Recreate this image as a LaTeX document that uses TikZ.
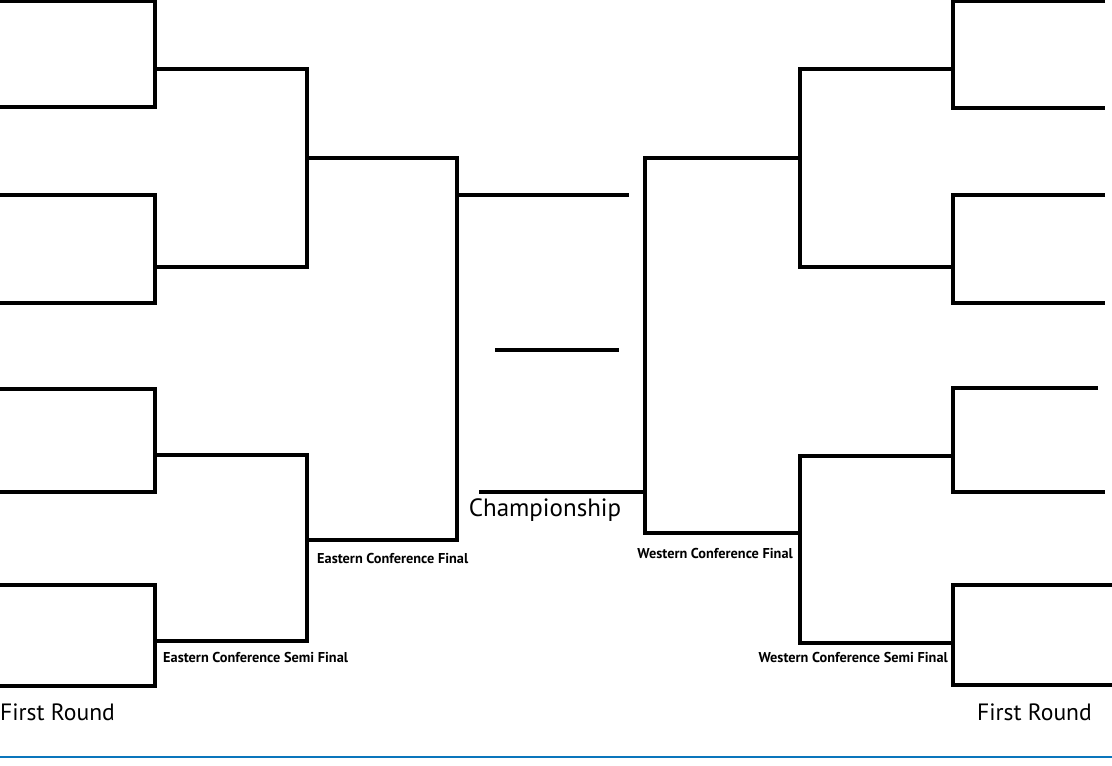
\documentclass[tikz,border=0pt]{standalone}
\usepackage{fontspec}
\setmainfont{PT Sans}
\usepackage{xcolor}
\definecolor{rulerblue}{RGB}{10,118,188}
\tikzset{
  bracket/.style={draw, line width=3.4pt, line join=miter},
  round label/.style={inner sep=0pt, font=\fontsize{23.6}{25}\selectfont},
  stage label/.style={inner sep=0pt, font=\bfseries\fontsize{14.3}{15}\selectfont},
}

\begin{document}
\begin{tikzpicture}[x=1pt, y=-1pt]
  \useasboundingbox (0,0) rectangle (1112,766);

  % eastern conference, first round
  \foreach \t/\b/\m [count=\i] in {1/107/69, 195/303/267, 389/492/455, 585/686/641} {
    \coordinate (eTop\i) at (0,\t);
    \coordinate (eBot\i) at (0,\b);
    \coordinate (eWin\i) at (155,\m);
    \draw[bracket] (eTop\i) -| (eWin\i) |- (eBot\i);
  }
  % western conference, first round
  \foreach \t/\b/\m/\xt/\xb [count=\i] in {1/108/69/1105/1105, 195/303/267/1105/1105,
                                           388/492/456/1098/1105, 585/685/643/1112/1112} {
    \coordinate (wTop\i) at (\xt,\t);
    \coordinate (wBot\i) at (\xb,\b);
    \coordinate (wWin\i) at (953,\m);
    \draw[bracket] (wTop\i) -| (wWin\i) |- (wBot\i);
  }

  \coordinate (eSemi1)  at (307,158);
  \coordinate (eSemi2)  at (307,540);
  \coordinate (eFinal)  at (457,195);
  \coordinate (wSemi1)  at (800,158);
  \coordinate (wSemi2)  at (800,533);
  \coordinate (wFinal)  at (645,492);
  \coordinate (champE)  at (629,195);
  \coordinate (champW)  at (479,492);
  \coordinate (champL)  at (495,350);
  \coordinate (champR)  at (619,350);

  \draw[bracket] (eWin1) -| (eSemi1) |- (eWin2);
  \draw[bracket] (eWin3) -| (eSemi2) |- (eWin4);
  \draw[bracket] (eSemi1) -| (eFinal) |- (eSemi2);
  \draw[bracket] (wWin1) -| (wSemi1) |- (wWin2);
  \draw[bracket] (wWin3) -| (wSemi2) |- (wWin4);
  \draw[bracket] (wSemi1) -| (wFinal) |- (wSemi2);

  \draw[bracket] (eFinal) -- (champE);
  \draw[bracket] (wFinal) -- (champW);
  \draw[bracket] (champL) -- (champR);

  \node[round label, anchor=west] (eRound) at (0,712)    {First Round};
  \node[round label, anchor=east] (wRound) at (1092,712) {First Round};
  \node[round label, font=\fontsize{25}{27}\selectfont] (champ) at (545,510) {Championship};
  \node[stage label, anchor=west] (eSemiLbl)  at (163,657) {Eastern Conference Semi Final};
  \node[stage label, anchor=west] (eFinalLbl) at (317,558) {Eastern Conference Final};
  \node[stage label, anchor=east] (wFinalLbl) at (793,553) {Western Conference Final};
  \node[stage label, anchor=east] (wSemiLbl)  at (948,657) {Western Conference Semi Final};

  \coordinate (ruleL) at (0,757);
  \coordinate (ruleR) at (1112,757);
  \draw[rulerblue, line width=2.5pt] (ruleL) -- (ruleR);
\end{tikzpicture}
\end{document}
